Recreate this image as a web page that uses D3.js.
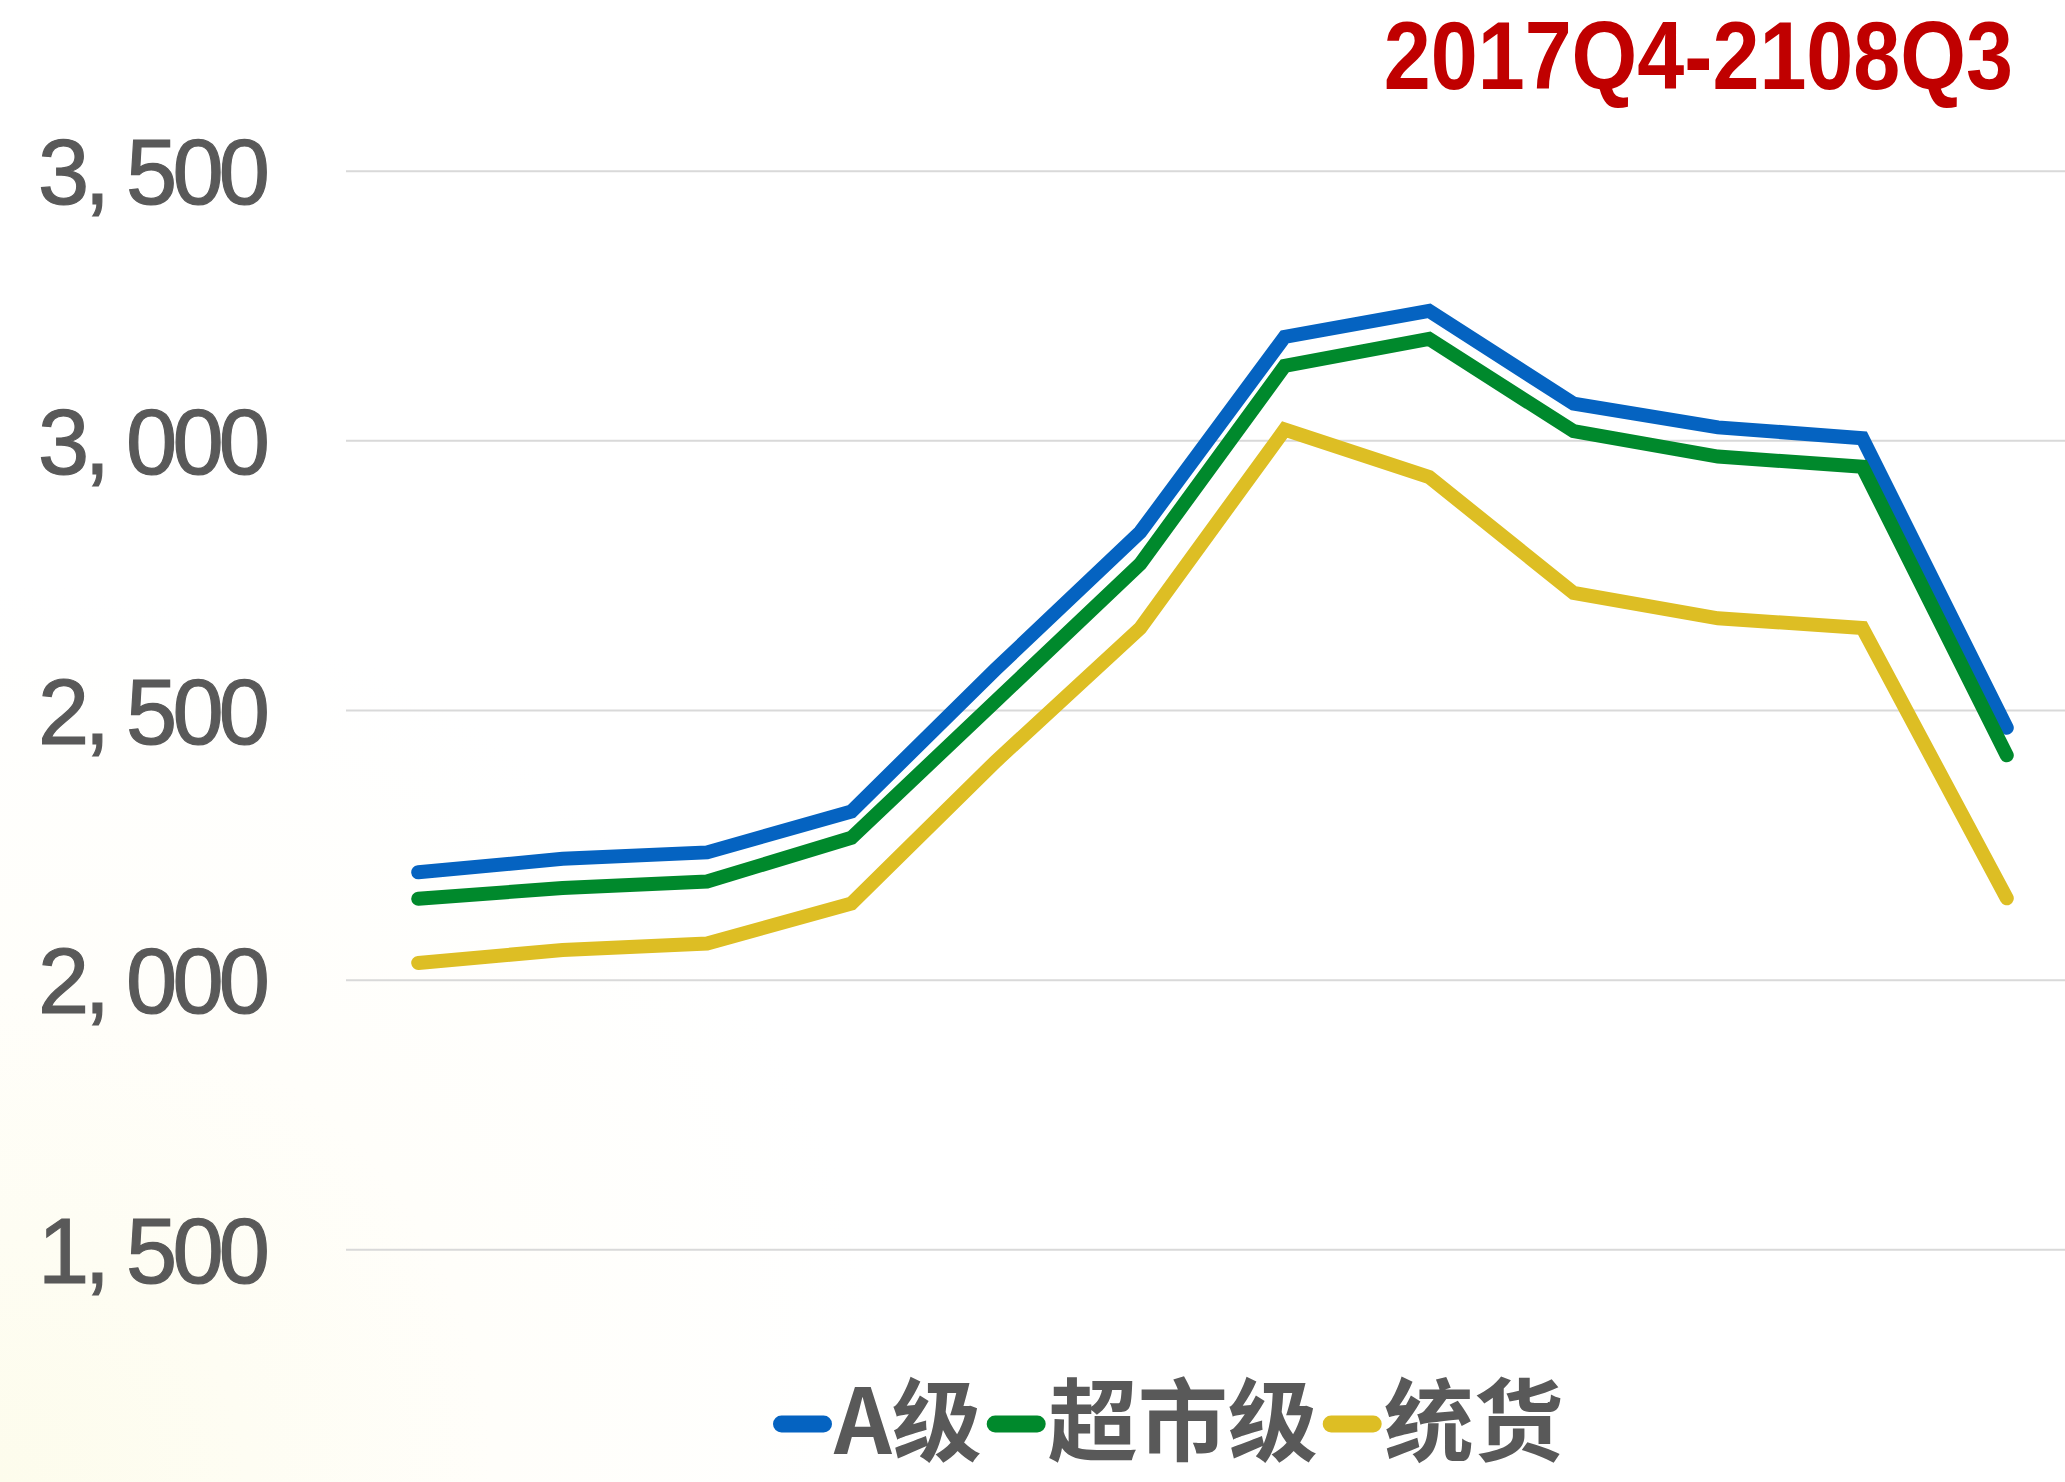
<!DOCTYPE html>
<html>
<head>
<meta charset="utf-8">
<script src="https://cdn.jsdelivr.net/npm/d3@7/dist/d3.min.js"></script>
<style>
  html, body { margin: 0; padding: 0; background: #ffffff; }
  svg { display: block; }
</style>
</head>
<body>
<svg id="chart" width="2065" height="1482"></svg>
<script>
// ---- data ----
const title = "2017Q4-2108Q3";
const categories = ["2017Q4","2018Q1","2018Q2","2018Q3","2018Q4","2019Q1","2019Q2","2019Q3","2019Q4","2020Q1","2020Q2","2020Q3"];
const seriesNames = ["A级", "超市级", "统货"];
const seriesA = [2199, 2224, 2236, 2312, 2576, 2830, 3192, 3240, 3068, 3024, 3004, 2467];
const seriesSuper = [2150, 2170, 2182, 2263, 2517, 2771, 3138, 3188, 3017, 2970, 2951, 2416];
const seriesBulk = [2031, 2055, 2067, 2141, 2405, 2652, 3020, 2932, 2717, 2670, 2652, 2151];
const yTicks = [1500, 2000, 2500, 3000, 3500];
const colors = ["#0563C1", "#00892C", "#DDBE24"];

const series = [seriesA, seriesSuper, seriesBulk].map((vals, i) => ({ name: seriesNames[i], values: vals, color: colors[i] }));

const svg = d3.select("#chart");
const W = 2065, H = 1482;

// background with very faint warm glow bottom-left
const defs = svg.append("defs");
const rg = defs.append("radialGradient").attr("id", "bg").attr("gradientUnits", "userSpaceOnUse")
  .attr("cx", 0).attr("cy", H).attr("r", 900);
rg.append("stop").attr("offset", "0%").attr("stop-color", "#fdfcec");
rg.append("stop").attr("offset", "55%").attr("stop-color", "#fffefa");
rg.append("stop").attr("offset", "100%").attr("stop-color", "#ffffff");
svg.append("rect").attr("width", W).attr("height", H).attr("fill", "url(#bg)");

// scales
const x = d3.scaleBand().domain(categories).range([346, 2079]);
const y = d3.scaleLinear().domain([1500, 3500]).range([1249.3, 170.7]);

// gridlines
const grid = svg.append("g")
  .attr("transform", "translate(346,0)")
  .call(d3.axisLeft(y).tickValues(yTicks).tickSize(-(2079 - 346)).tickFormat(""));
grid.select(".domain").remove();
grid.selectAll("line").attr("stroke", "#D9D9D9").attr("stroke-width", 2);

// y axis labels
const fmt = d3.format(",");
const yAxis = svg.append("g")
  .attr("transform", "translate(270,0)")
  .call(d3.axisLeft(y).tickValues(yTicks).tickSize(0).tickPadding(0)
    .tickFormat(d => fmt(d).replace(",", ", ")));
yAxis.select(".domain").remove();
yAxis.selectAll("text")
  .attr("fill", "#595959")
  .attr("stroke", "#595959")
  .attr("stroke-width", 1.2)
  .attr("font-family", "'Liberation Sans', Arial, sans-serif")
  .attr("font-size", 92)
  .attr("dy", "0.36em")
  .attr("textLength", 232)
  .attr("lengthAdjust", "spacing");

// lines
const line = d3.line()
  .x((d, i) => x(categories[i]) + x.bandwidth() / 2)
  .y(d => y(d));

svg.append("g").selectAll("path")
  .data(series)
  .join("path")
  .attr("d", d => line(d.values))
  .attr("fill", "none")
  .attr("stroke", d => d.color)
  .attr("stroke-width", 14)
  .attr("stroke-linecap", "round")
  .attr("stroke-linejoin", "miter");

// title (horizontally condensed like the reference)
svg.append("text")
  .attr("transform", "translate(2013,89) scale(0.88,1)")
  .attr("text-anchor", "end")
  .attr("fill", "#C00000")
  .attr("font-family", "'Liberation Sans', Arial, sans-serif")
  .attr("font-weight", "bold")
  .attr("font-size", 96)
  .text(title);

// legend
const legend = svg.append("g");
let lx = 773;
const ly = 1424;
series.forEach(s => {
  legend.append("line")
    .attr("x1", lx + 8.5).attr("x2", lx + 50.5)
    .attr("y1", ly).attr("y2", ly)
    .attr("stroke", s.color).attr("stroke-width", 17).attr("stroke-linecap", "round");
  const t = legend.append("text")
    .attr("x", lx + 61).attr("y", 1454)
    .attr("fill", "#595959")
    .attr("font-family", "'Noto Sans CJK SC', sans-serif")
    .attr("font-weight", "bold")
    .attr("font-size", 90)
    .text(s.name);
  const w = t.node().getComputedTextLength();
  lx = lx + 61 + w + 5;
});
</script>
</body>
</html>
